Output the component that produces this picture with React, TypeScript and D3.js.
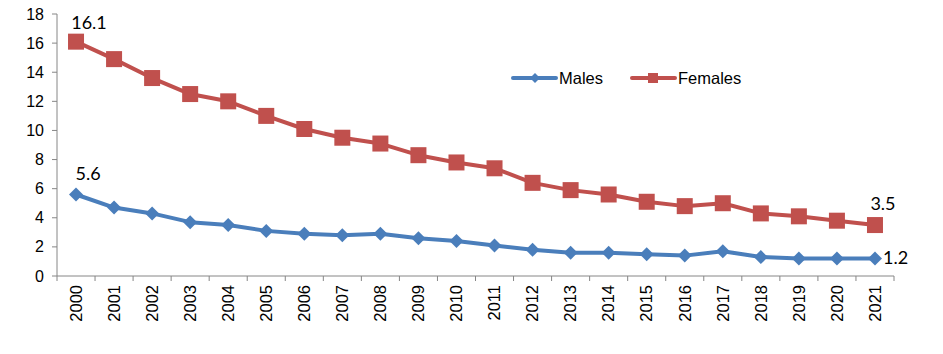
import * as d3 from 'd3'

const years = ['2000', '2001', '2002', '2003', '2004', '2005', '2006', '2007', '2008', '2009', '2010', '2011', '2012', '2013', '2014', '2015', '2016', '2017', '2018', '2019', '2020', '2021']
const males = [5.6, 4.7, 4.3, 3.7, 3.5, 3.1, 2.9, 2.8, 2.9, 2.6, 2.4, 2.1, 1.8, 1.6, 1.6, 1.5, 1.4, 1.7, 1.3, 1.2, 1.2, 1.2]
const females = [16.1, 14.9, 13.6, 12.5, 12.0, 11.0, 10.1, 9.5, 9.1, 8.3, 7.8, 7.4, 6.4, 5.9, 5.6, 5.1, 4.8, 5.0, 4.3, 4.1, 3.8, 3.5]
const yTicks = [0, 2, 4, 6, 8, 10, 12, 14, 16, 18]

const width = 943
const height = 354
const left = 57
const right = 894
const top = 14
const bottom = 276

const blue = '#4A7EBB'
const red = '#C0504D'
const axisColor = '#868686'
const axisFont = '"Liberation Sans", Arial, sans-serif'
const labelFont = 'Lato, "Open Sans", sans-serif'

// square-ish diamond like the spreadsheet marker
const diamondPath = (r: number) => `M0,${-r}L${r},0L0,${r}L${-r},0Z`

export default function App() {
  const x = d3.scaleBand<string>().domain(years).range([left, right])
  const y = d3.scaleLinear().domain([0, 18]).range([bottom, top])
  const cx = (yr: string) => (x(yr) ?? 0) + x.bandwidth() / 2
  const line = d3
    .line<number>()
    .x((_, i) => cx(years[i]))
    .y((d) => y(d))
  const last = years.length - 1

  return (
    <svg
      width={width}
      height={height}
      style={{ position: 'absolute', left: 0, top: 0, background: '#fff' }}
    >
      {/* y axis */}
      <line x1={left} x2={left} y1={top} y2={bottom} stroke={axisColor} />
      {yTicks.map((t) => (
        <g key={t}>
          <line x1={left - 5} x2={left} y1={y(t)} y2={y(t)} stroke={axisColor} />
          <text
            x={left - 13}
            y={y(t)}
            dy="0.35em"
            textAnchor="end"
            fontFamily={axisFont}
            fontSize={16}
            fill="#000"
          >
            {t}
          </text>
        </g>
      ))}
      {/* x axis */}
      <line x1={left} x2={right} y1={bottom} y2={bottom} stroke={axisColor} />
      {[...years.map((yr) => x(yr) ?? 0), right].map((p, i) => (
        <line key={i} x1={p} x2={p} y1={bottom} y2={bottom + 5} stroke={axisColor} />
      ))}
      {years.map((yr) => (
        <text
          key={yr}
          transform={`translate(${cx(yr)},${bottom + 9}) rotate(-90)`}
          dy="0.35em"
          textAnchor="end"
          fontFamily={axisFont}
          fontSize={16.5}
          fill="#000"
        >
          {yr}
        </text>
      ))}

      {/* series */}
      <path d={line(females) ?? undefined} fill="none" stroke={red} strokeWidth={4} strokeLinejoin="round" />
      {females.map((v, i) => (
        <rect key={i} x={cx(years[i]) - 8} y={y(v) - 8} width={16} height={16} fill={red} />
      ))}
      <path d={line(males) ?? undefined} fill="none" stroke={blue} strokeWidth={4} strokeLinejoin="round" />
      {males.map((v, i) => (
        <path key={i} d={diamondPath(7)} transform={`translate(${cx(years[i])},${y(v)})`} fill={blue} />
      ))}

      {/* data labels */}
      <g fontFamily={labelFont} fontSize={18} fill="#000">
        <text x={cx(years[0]) + 13} y={y(females[0]) - 13} textAnchor="middle">
          {females[0].toFixed(1)}
        </text>
        <text x={cx(years[0]) + 12} y={y(males[0]) - 14} textAnchor="middle">
          {males[0].toFixed(1)}
        </text>
        <text x={cx(years[last]) + 8} y={y(females[last]) - 15} textAnchor="middle">
          {females[last].toFixed(1)}
        </text>
        <text x={cx(years[last]) + 8} y={y(males[last])} dy="0.32em">
          {males[last].toFixed(1)}
        </text>
      </g>

      {/* legend */}
      <g fontFamily={axisFont} fontSize={16.5}>
        <line x1={513} x2={556} y1={78} y2={78} stroke={blue} strokeWidth={4} strokeLinecap="round" />
        <path d={diamondPath(5)} transform="translate(535,78)" fill={blue} />
        <text x={559} y={78} dy="0.35em">Males</text>
        <line x1={632} x2={675} y1={78} y2={78} stroke={red} strokeWidth={4} strokeLinecap="round" />
        <rect x={648} y={73} width={10} height={10} fill={red} />
        <text x={678} y={78} dy="0.35em">Females</text>
      </g>
    </svg>
  )
}
